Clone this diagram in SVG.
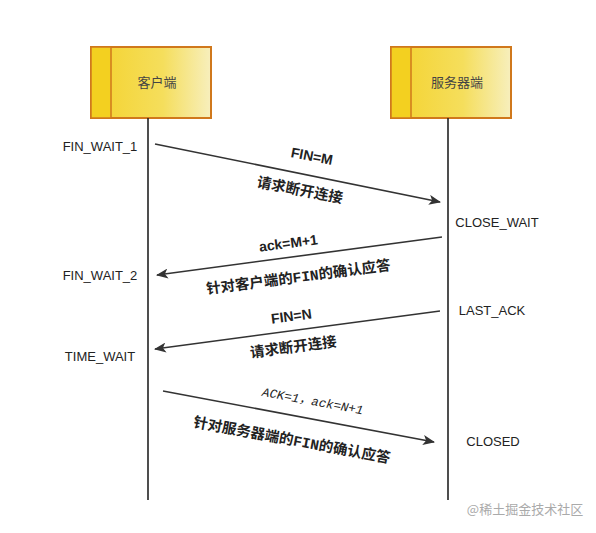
<svg xmlns="http://www.w3.org/2000/svg" width="596" height="533" viewBox="0 0 596 533">
<style>
.box{stroke:#d0781c;stroke-width:2}
.strip{fill:#f3d020;stroke:#d0781c;stroke-width:1.5}
.life{stroke:#222;stroke-width:1.6}
.arr{stroke:#333;stroke-width:1.6;fill:none;marker-end:url(#ah)}
.state{font-family:"Liberation Sans",Arial,sans-serif;font-size:13px;fill:#222;text-anchor:middle}
.title{font-family:"Noto Sans CJK SC",sans-serif;font-size:13px;fill:#444;text-anchor:middle}
.lab{font-family:"Liberation Sans",Arial,sans-serif;font-weight:bold;font-size:14px;fill:#222;text-anchor:middle}
.cn{font-family:"Liberation Mono","Noto Sans CJK SC",monospace;font-weight:bold;font-size:14.5px;fill:#222;text-anchor:middle}
.it{font-family:"Liberation Mono","Noto Sans CJK SC",monospace;font-style:italic;font-size:12.5px;fill:#222;text-anchor:middle}
</style>
<defs>
<linearGradient id="g" x1="0" y1="0" x2="1" y2="0">
<stop offset="0" stop-color="#f4d22c"/>
<stop offset="0.6" stop-color="#f5de5c"/>
<stop offset="1" stop-color="#f7efbd"/>
</linearGradient>
<marker id="ah" viewBox="0 0 12 10" refX="11" refY="5" markerWidth="12" markerHeight="10" markerUnits="userSpaceOnUse" orient="auto">
<path d="M0,0 L12,5 L0,10 L3,5 Z" fill="#333"/>
</marker>
</defs>
<rect width="596" height="533" fill="#fff"/>
<g id="client">
<rect class="box" x="91" y="47" width="120" height="71" fill="url(#g)"/>
<rect class="strip" x="91" y="47" width="20" height="71"/>
<text class="title" x="157" y="87">客户端</text>
</g>
<g id="server">
<rect class="box" x="391" y="47" width="120" height="71" fill="url(#g)"/>
<rect class="strip" x="391" y="47" width="20" height="71"/>
<text class="title" x="457" y="87">服务器端</text>
</g>
<g id="lifelines">
<line class="life" x1="148" y1="118" x2="148" y2="500"/>
<line class="life" x1="448" y1="118" x2="448" y2="500"/>
</g>
<g id="states">
<text class="state" x="100" y="151">FIN_WAIT_1</text>
<text class="state" x="497" y="227">CLOSE_WAIT</text>
<text class="state" x="100" y="280">FIN_WAIT_2</text>
<text class="state" x="492" y="315">LAST_ACK</text>
<text class="state" x="100" y="361">TIME_WAIT</text>
<text class="state" x="493" y="446">CLOSED</text>
</g>
<g id="connectors">
<line class="arr" x1="155" y1="144" x2="440" y2="202"/>
<line class="arr" x1="442" y1="237" x2="157" y2="275"/>
<line class="arr" x1="440" y1="311" x2="155" y2="349"/>
<line class="arr" x1="163" y1="391" x2="434" y2="442"/>
</g>
<g id="labels">
<text class="lab" transform="translate(311,161) rotate(11)">FIN=M</text>
<text class="cn" transform="translate(299,195) rotate(11)">请求断开连接</text>
<text class="lab" transform="translate(289,248) rotate(-7.5)">ack=M+1</text>
<text class="cn" transform="translate(299,282) rotate(-7.5)">针对客户端的FIN的确认应答</text>
<text class="lab" transform="translate(292,321) rotate(-7.5)">FIN=N</text>
<text class="cn" transform="translate(294,352) rotate(-7.5)">请求断开连接</text>
<text class="it" transform="translate(312,405) rotate(10.5)">ACK=1，ack=N+1</text>
<text class="cn" transform="translate(291,445) rotate(10.5)">针对服务器端的FIN的确认应答</text>
</g>
<text x="525" y="514" font-family="Noto Sans CJK SC,sans-serif" font-size="13" fill="#aaa" text-anchor="middle">@稀土掘金技术社区</text>
</svg>
